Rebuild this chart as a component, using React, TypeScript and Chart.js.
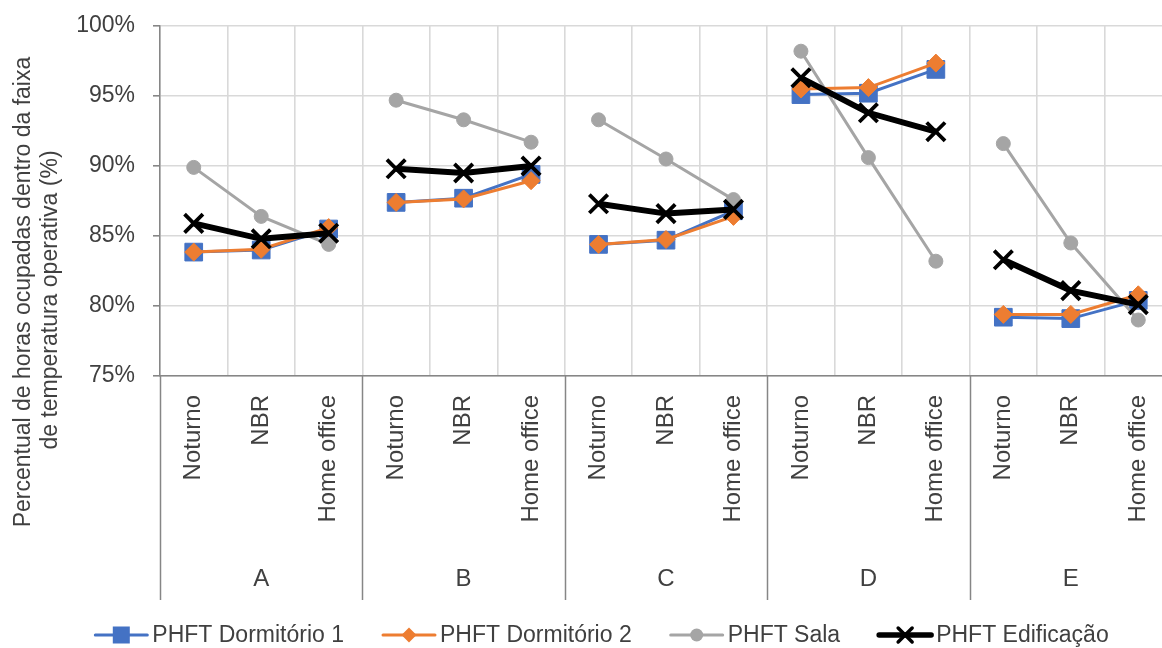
import React, { useEffect, useRef } from "react";
import { Chart, registerables } from "chart.js";

Chart.register(...registerables);

const categories = [
  "Noturno", "NBR", "Home office",
  "Noturno", "NBR", "Home office",
  "Noturno", "NBR", "Home office",
  "Noturno", "NBR", "Home office",
  "Noturno", "NBR", "Home office",
];
const groups = ["A", "B", "C", "D", "E"];

const dorm1 = [83.85, 84.0, 85.5, 87.4, 87.7, 89.4, 84.4, 84.7, 86.8, 95.1, 95.2, 96.9, 79.2, 79.1, 80.4];
const dorm2 = [83.85, 84.05, 85.6, 87.4, 87.65, 88.95, 84.4, 84.75, 86.4, 95.5, 95.6, 97.35, 79.4, 79.4, 80.8];
const sala = [89.9, 86.4, 84.4, 94.7, 93.3, 91.7, 93.3, 90.5, 87.6, 98.2, 90.6, 83.2, 91.6, 84.5, 79.0];
const edif = [85.9, 84.8, 85.2, 89.8, 89.5, 90.0, 87.3, 86.6, 86.9, 96.3, 93.8, 92.45, 83.3, 81.1, 80.1];

const seriesNames = ["PHFT Dormitório 1", "PHFT Dormitório 2", "PHFT Sala", "PHFT Edificação"];
const yTitle = ["Percentual de horas ocupadas dentro da faixa", "de temperatura operativa (%)"];

const FONT = "'Liberation Sans', Arial, sans-serif";
const TEXT = "#404040";
const AXIS = "#868686";
const GRID = "#d9d9d9";

const COLORS = ["#4472C4", "#ED7D31", "#A5A5A5", "#000000"];

const gap = (ctx: any) => (ctx.p0DataIndex % 3 === 2 ? "rgba(0,0,0,0)" : undefined);

function drawMarker(ctx: CanvasRenderingContext2D, kind: number, x: number, y: number, s: number) {
  ctx.save();
  ctx.fillStyle = COLORS[kind];
  ctx.strokeStyle = COLORS[kind];
  if (kind === 0) {
    ctx.fillRect(x - s / 2, y - s / 2, s, s);
  } else if (kind === 1) {
    ctx.beginPath();
    ctx.moveTo(x - s / 2, y);
    ctx.lineTo(x, y - s / 2);
    ctx.lineTo(x + s / 2, y);
    ctx.lineTo(x, y + s / 2);
    ctx.closePath();
    ctx.fill();
  } else if (kind === 2) {
    ctx.beginPath();
    ctx.arc(x, y, s / 2, 0, Math.PI * 2);
    ctx.fill();
  } else {
    ctx.lineWidth = 3.5;
    ctx.beginPath();
    ctx.moveTo(x - s / 2, y - s / 2);
    ctx.lineTo(x + s / 2, y + s / 2);
    ctx.moveTo(x + s / 2, y - s / 2);
    ctx.lineTo(x - s / 2, y + s / 2);
    ctx.stroke();
  }
  ctx.restore();
}

const decorPlugin = {
  id: "decor",
  afterDraw(chart: any) {
    const ctx: CanvasRenderingContext2D = chart.ctx;
    const xs = chart.scales.x;
    const area = chart.chartArea;
    const half = (xs.getPixelForValue(1) - xs.getPixelForValue(0)) / 2;
    ctx.save();
    // group separators
    ctx.strokeStyle = AXIS;
    ctx.lineWidth = 1.5;
    for (let g = 0; g <= groups.length; g++) {
      const x = Math.round(xs.getPixelForValue(g * 3) - half) + 0.5;
      ctx.beginPath();
      ctx.moveTo(x, area.bottom);
      ctx.lineTo(x, 600);
      ctx.stroke();
    }
    // group labels
    ctx.fillStyle = TEXT;
    ctx.font = `24px ${FONT}`;
    ctx.textAlign = "center";
    ctx.textBaseline = "middle";
    groups.forEach((g, i) => {
      ctx.fillText(g, xs.getPixelForValue(i * 3 + 1), 579);
    });
    // y title
    ctx.save();
    ctx.translate(0, 296);
    ctx.rotate(-Math.PI / 2);
    ctx.font = `23px ${FONT}`;
    ctx.fillStyle = TEXT;
    ctx.textAlign = "center";
    ctx.textBaseline = "middle";
    ctx.fillText(yTitle[0], 4, 24);
    ctx.fillText(yTitle[1], -4, 51);
    ctx.restore();
    // legend
    ctx.font = `23px ${FONT}`;
    ctx.textAlign = "left";
    ctx.textBaseline = "middle";
    const lineW = 56, pad = 3, itemGap = 37;
    const widths = seriesNames.map((n) => ctx.measureText(n).width);
    const total = widths.reduce((a, w) => a + lineW + pad + w, 0) + itemGap * (seriesNames.length - 1);
    let x = 601 - total / 2;
    const y = 635;
    const lws = [3, 3, 3, 5.5];
    const ms = [17, 15, 13, 14];
    seriesNames.forEach((n, i) => {
      ctx.strokeStyle = COLORS[i];
      ctx.lineWidth = lws[i];
      ctx.lineCap = "round";
      ctx.beginPath();
      ctx.moveTo(x + 2, y);
      ctx.lineTo(x + lineW - 2, y);
      ctx.stroke();
      drawMarker(ctx, i, x + lineW / 2, y, ms[i]);
      ctx.fillStyle = TEXT;
      ctx.fillText(n, x + lineW + pad, y + 1);
      x += lineW + pad + widths[i] + itemGap;
    });
    ctx.restore();
  },
};

export default function App() {
  const ref = useRef<HTMLCanvasElement>(null);
  useEffect(() => {
    if (!ref.current) return;
    const chart = new Chart(ref.current, {
      type: "line",
      data: {
        labels: categories,
        datasets: [
          {
            label: seriesNames[0], data: dorm1, borderColor: COLORS[0], backgroundColor: COLORS[0],
            borderWidth: 3, pointStyle: "rect", pointRadius: 12.5, pointBorderWidth: 1,
            pointBackgroundColor: COLORS[0], pointBorderColor: COLORS[0], order: 3,
            segment: { borderColor: gap },
          },
          {
            label: seriesNames[1], data: dorm2, borderColor: COLORS[1], backgroundColor: COLORS[1],
            borderWidth: 3, pointStyle: "rectRot", pointRadius: 9, pointBorderWidth: 1,
            pointBackgroundColor: COLORS[1], pointBorderColor: COLORS[1], order: 2,
            segment: { borderColor: gap },
          },
          {
            label: seriesNames[2], data: sala, borderColor: COLORS[2], backgroundColor: COLORS[2],
            borderWidth: 3, pointStyle: "circle", pointRadius: 7, pointBorderWidth: 1,
            pointBackgroundColor: COLORS[2], pointBorderColor: COLORS[2], order: 1,
            segment: { borderColor: gap },
          },
          {
            label: seriesNames[3], data: edif, borderColor: COLORS[3], backgroundColor: COLORS[3],
            borderWidth: 6, pointStyle: "crossRot", pointRadius: 13, pointBorderWidth: 3.8,
            pointBackgroundColor: COLORS[3], pointBorderColor: COLORS[3], order: 0,
            segment: { borderColor: gap },
          },
        ],
      },
      options: {
        responsive: false,
        animation: false,
        devicePixelRatio: 1,
        layout: { padding: { top: 26, right: 18, bottom: 48, left: 0 } },
        plugins: { legend: { display: false }, tooltip: { enabled: false } },
        elements: { line: { tension: 0 } },
        scales: {
          x: {
            type: "category",
            offset: true,
            grid: { offset: true, color: GRID, lineWidth: 1.6, drawTicks: false },
            border: { color: AXIS, width: 1.5 },
            ticks: {
              autoSkip: false, minRotation: 90, maxRotation: 90, padding: 19,
              color: TEXT, font: { size: 24, family: FONT },
            },
            afterFit: (s: any) => { s.height = 224; s.paddingTop = 0; s.paddingBottom = 0; },
          },
          y: {
            min: 75, max: 100,
            ticks: {
              stepSize: 5, callback: (v: any) => v + "%", padding: 18,
              color: TEXT, font: { size: 23, family: FONT },
            },
            grid: { color: GRID, lineWidth: 1.6, tickLength: 7, tickColor: AXIS },
            border: { color: AXIS, width: 1.5 },
            afterFit: (s: any) => { s.width = 160; s.paddingTop = 0; s.paddingBottom = 0; },
          },
        },
      },
      plugins: [decorPlugin],
    } as any);
    return () => chart.destroy();
  }, []);
  return (
    <div style={{ position: "fixed", left: 0, top: 0, width: 1162, height: 648, overflow: "hidden", background: "#fff" }}>
      <canvas ref={ref} width={1190} height={648} style={{ display: "block" }} />
    </div>
  );
}
